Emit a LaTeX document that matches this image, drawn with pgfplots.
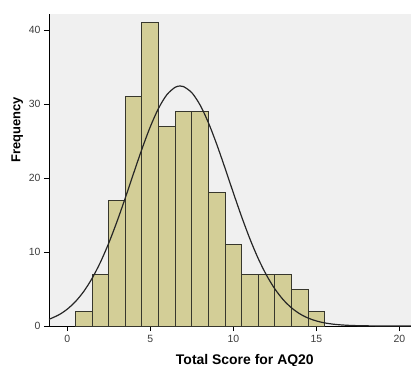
\documentclass[border=0pt]{standalone}
\usepackage{fontspec}
\setmainfont{Liberation Sans}
\usepackage{pgfplots}
\pgfplotsset{compat=1.18}
\definecolor{barfill}{RGB}{211,206,151}
\definecolor{baredge}{RGB}{55,55,45}
\definecolor{plotbg}{RGB}{240,240,240}
\definecolor{ticktext}{RGB}{60,60,60}
\begin{document}
\begin{tikzpicture}
\useasboundingbox (-49bp,-40bp) rectangle (362bp,326bp);
\begin{axis}[
  scale only axis,
  width=362bp, height=312bp,
  xmin=-1.1, xmax=20.7,
  ymin=0, ymax=42.2,
  axis x line*=bottom,
  axis y line*=left,
  axis line style={-, black, line width=0.9pt},
  axis background/.style={fill=plotbg},
  xtick={0,5,10,15,20},
  ytick={0,10,20,30,40},
  tick align=outside,
  major tick length=5bp,
  tick style={black, line width=0.9pt},
  /pgf/number format/assume math mode=true,
  tick label style={font=\fontsize{10.5}{12}\selectfont, text=ticktext},
  xticklabel style={yshift=-1bp},
  xlabel={\textbf{Total Score for AQ20}},
  ylabel={\textbf{Frequency}},
  xlabel style={font=\fontsize{14}{16}\selectfont, at={(axis description cs:0.541,-0.11)}, anchor=center},
  ylabel style={font=\fontsize{13}{15}\selectfont, at={(axis description cs:-0.088,0.628)}, anchor=center},
  clip=true,
]
\addplot[ybar interval, fill=barfill, draw=baredge, line width=1pt] coordinates {
  (0.5,2) (1.5,7) (2.5,17) (3.5,31) (4.5,41) (5.5,27) (6.5,29) (7.5,29)
  (8.5,18) (9.5,11) (10.5,7) (11.5,7) (12.5,7) (13.5,5) (14.5,2) (15.5,2)
};
\addplot[black!85, line width=1.2pt, smooth, mark=none] coordinates {
  (-1.1,0.899) (-0.5,1.519) (0,2.278) (0.5,3.319) (1,4.698) (1.5,6.463)
  (2,8.639) (2.5,11.220) (3,14.159) (3.5,17.363) (4,20.688) (4.5,23.953)
  (5,26.947) (5.5,29.457) (6,31.288) (6.5,32.293) (6.8,32.46) (7,32.385)
  (7.5,31.559) (8,29.883) (8.5,27.494) (9,24.580) (9.5,21.353) (10,18.023)
  (10.5,14.783) (11,11.781) (11.5,9.123) (12,6.865) (12.5,5.020) (13,3.566)
  (13.5,2.462) (14,1.652) (14.5,1.076) (15,0.682) (15.5,0.420) (16,0.251)
  (16.5,0.146) (17,0.0823) (17.5,0.0452) (18,0.0241) (19,0.0063) (20,0.0015)
  (20.7,0.0004)
};
\end{axis}
\end{tikzpicture}
\end{document}
